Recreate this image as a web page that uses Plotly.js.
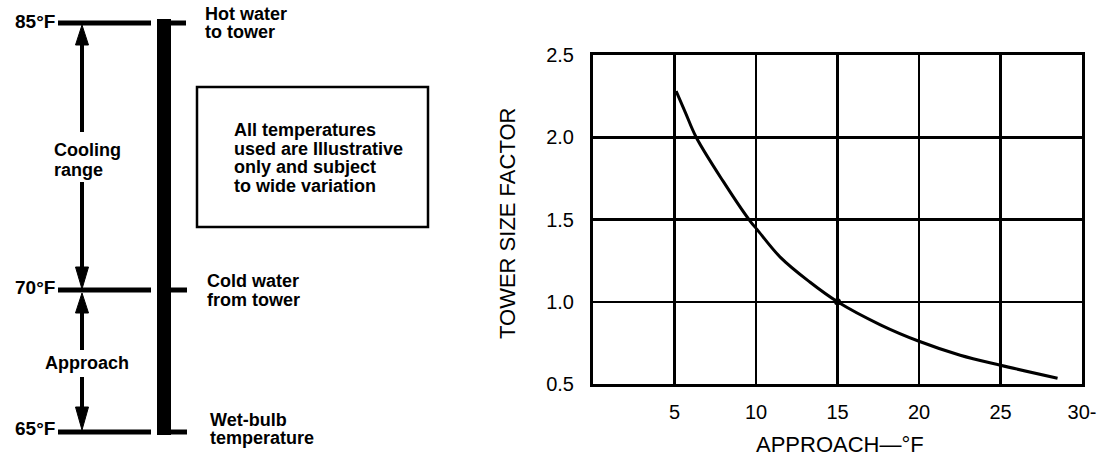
<!DOCTYPE html>
<html>
<head>
<meta charset="utf-8">
<script src="https://cdn.plot.ly/plotly-3.0.1.min.js"></script>
<style>html,body{margin:0;padding:0;background:#fff;}#chart{width:1106px;height:458px;}</style>
</head>
<body>
<div id="chart"></div>
<script>
// ---- data ----
const approachF = [5.1, 5.67, 6.33, 8.0, 9.64, 10.06, 11.5, 13.3, 15, 17.63, 20, 22.53, 25, 28.5];
const sizeFactor = [2.28, 2.15, 2.0, 1.73, 1.49, 1.44, 1.27, 1.12, 1.0, 0.86, 0.76, 0.675, 0.614, 0.535];
const designApproach = [15];
const designFactor = [1.0];
const xTickVals = [5, 10, 15, 20, 25, 30];
const xTickText = ['5', '10', '15', '20', '25', '30-'];
const yTickVals = [0.5, 1.0, 1.5, 2.0, 2.5];
const yTickText = ['0.5', '1.0', '1.5', '2.0', '2.5'];
const xTitle = 'APPROACH\u2014\u00b0F';
const yTitle = 'TOWER SIZE FACTOR';

const levelTemps = [85, 70, 65];
const levelLabels = ['85\u00b0F', '70\u00b0F', '65\u00b0F'];
const levelNotes = [['Hot water', 'to tower'], ['Cold water', 'from tower'], ['Wet-bulb', 'temperature']];
const rangeLabel = ['Cooling', 'range'];
const approachLabel = 'Approach';
const noteLines = ['All temperatures', 'used are Illustrative', 'only and subject', 'to wide variation'];

// ---- layout helpers (schematic drawn in figure pixels) ----
const W = 1106, H = 458;
const px = x => x / W;
const py = y => 1 - y / H;
const levelY = {85: 23, 70: 290, 65: 432};          // schematic (not to scale) line positions
const labelY = {85: 21, 70: 287, 65: 428};
const teeX = {85: [157, 186], 70: [171, 187], 65: [157, 187]};
const noteYs = {85: [14, 32], 70: [281, 300], 65: [420, 438]};
const noteX = {85: 203, 70: 205, 65: 208};

const FAM = 'Liberation Sans, Arial, Helvetica, sans-serif';
const BOLD = {family: FAM, size: 18, color: '#000', weight: 'bold'};
const TICK = {family: FAM, size: 20, color: '#000'};
const TITLE = {family: FAM, size: 22, color: '#000'};

const shapes = [];
const annotations = [];
function line(x0, y0, x1, y1, w) {
  shapes.push({type: 'line', xref: 'paper', yref: 'paper', x0: px(x0), y0: py(y0), x1: px(x1), y1: py(y1),
    line: {color: '#000', width: w}});
}
function tri(xc, tipY, baseY, half) {
  shapes.push({type: 'path', xref: 'paper', yref: 'paper',
    path: `M ${px(xc)} ${py(tipY)} L ${px(xc - half)} ${py(baseY)} L ${px(xc + half)} ${py(baseY)} Z`,
    fillcolor: '#000', line: {color: '#000', width: 1}});
}
function label(text, x, y, xanchor, font, extra) {
  annotations.push(Object.assign({xref: 'paper', yref: 'paper', x: px(x), y: py(y), xanchor: xanchor,
    yanchor: 'middle', text: text, showarrow: false, font: font}, extra || {}));
}

// thick vertical bar
shapes.push({type: 'rect', xref: 'paper', yref: 'paper', x0: px(157), x1: px(171), y0: py(19), y1: py(435),
  fillcolor: '#000', line: {width: 0}});

levelTemps.forEach((t, i) => {
  const y = levelY[t];
  line(58, y, 151, y, 5);
  line(teeX[t][0], y, teeX[t][1], y, 5);
  label(levelLabels[i], 57, labelY[t], 'right', Object.assign({}, BOLD, {size: 19}));
  levelNotes[i].forEach((s, k) => label(s, noteX[t], noteYs[t][k], 'left', BOLD));
});

// Cooling range arrows (85 -> 70)
const ax = 82;
tri(ax, 25, 45, 6.5);
line(ax, 44, ax, 132, 4);
line(ax, 182, ax, 268, 4);
tri(ax, 289, 267, 6.5);
label(rangeLabel[0], 52, 150, 'left', BOLD);
label(rangeLabel[1], 52, 170, 'left', BOLD);

// Approach arrows (70 -> 65)
tri(ax, 293, 313, 6.5);
line(ax, 312, ax, 350, 4);
line(ax, 377, ax, 408, 4);
tri(ax, 430, 407, 6.5);
label(approachLabel, 87, 363, 'center', BOLD);

// note box
shapes.push({type: 'rect', xref: 'paper', yref: 'paper', x0: px(197), x1: px(428), y0: py(87), y1: py(227),
  line: {color: '#000', width: 2.5}, fillcolor: 'rgba(0,0,0,0)'});
const noteYsBox = [130, 149, 167, 186];
noteLines.forEach((s, k) => label(s, 232, noteYsBox[k], 'left', BOLD));

// axis titles of the chart
label(xTitle, 840, 444, 'center', TITLE);
label(yTitle, 507, 224, 'center', TITLE, {textangle: -90});

const traces = [
  {x: approachF, y: sizeFactor, type: 'scatter', mode: 'lines', line: {color: '#000', width: 3, shape: 'spline', smoothing: 1},
   hoverinfo: 'x+y', showlegend: false},
  {x: designApproach, y: designFactor, type: 'scatter', mode: 'markers', marker: {color: '#000', size: 7},
   hoverinfo: 'x+y', showlegend: false}
];

const layout = {
  width: W, height: H,
  margin: {l: 0, r: 0, t: 0, b: 0},
  paper_bgcolor: '#fff', plot_bgcolor: '#fff',
  showlegend: false,
  xaxis: {domain: [px(593), px(1082)], range: [0, 30], tickvals: xTickVals, ticktext: xTickText,
    showgrid: true, gridcolor: '#000', gridwidth: 2.5, zeroline: false,
    showline: true, mirror: true, linecolor: '#000', linewidth: 3,
    ticks: '', ticklabelstandoff: 8, tickfont: TICK, fixedrange: true},
  yaxis: {domain: [py(384), py(55)], range: [0.5, 2.5], tickvals: yTickVals, ticktext: yTickText,
    showgrid: true, gridcolor: '#000', gridwidth: 2.5, zeroline: false,
    showline: true, mirror: true, linecolor: '#000', linewidth: 3,
    ticks: '', ticklabelstandoff: 12, tickfont: TICK, fixedrange: true},
  shapes: shapes,
  annotations: annotations
};

Plotly.newPlot('chart', traces, layout, {displayModeBar: false, staticPlot: true});
</script>
</body>
</html>
